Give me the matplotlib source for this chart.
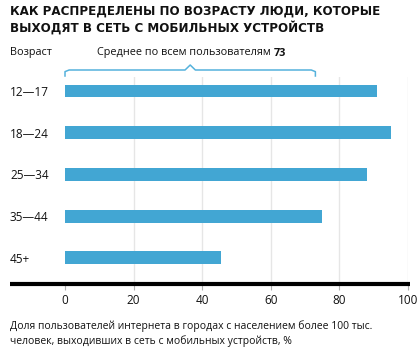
import numpy as np
import matplotlib
matplotlib.use('Agg')
import matplotlib.pyplot as plt
import matplotlib.transforms as mtransforms
from matplotlib.lines import Line2D

plt.rcParams['font.family'] = ['Open Sans', 'DejaVu Sans']

# данные
ages = ['12—17', '18—24', '25—34', '35—44', '45+']
shares = [91, 95, 88, 75, 45.5]
average = 73
xticks = [0, 20, 40, 60, 80, 100]

title = 'КАК РАСПРЕДЕЛЕНЫ ПО ВОЗРАСТУ ЛЮДИ, КОТОРЫЕ\nВЫХОДЯТ В СЕТЬ С МОБИЛЬНЫХ УСТРОЙСТВ'
note = ('Доля пользователей интернета в городах с населением более 100 тыс.\n'
        'человек, выходивших в сеть с мобильных устройств, %')

W, H = 420, 351
fig = plt.figure(figsize=(W / 100, H / 100), dpi=100)

def fx(px):
    return px / W

def fy(py):
    return 1 - py / H

ax = fig.add_axes([fx(65), fy(283), fx(408) - fx(65), fy(77) - fy(283)])

bar_color = '#42a6d3'
ax.barh(np.arange(len(ages)), shares, height=0.31, color=bar_color, zorder=3)
ax.set_xlim(0, 100)
ax.set_ylim(4.6, -0.335)

for x in xticks[1:]:
    ax.axvline(x, color='#e6e6e6', lw=1, zorder=1)

for s in ax.spines.values():
    s.set_visible(False)

ax.set_xticks(xticks)
ax.tick_params(axis='x', length=5, width=0.8, color='#b0b0b0', pad=3,
               labelsize=8.5, labelcolor='#111111')
ax.set_yticks(np.arange(len(ages)))
ax.set_yticklabels(ages)
ax.tick_params(axis='y', length=0, pad=39.6, labelsize=8.5, labelcolor='#111111')
for lbl in ax.get_yticklabels():
    lbl.set_horizontalalignment('left')

# толстая черная линия
fig.add_artist(Line2D([fx(10), fx(410)], [fy(284), fy(284)], color='black',
                      lw=3, solid_capstyle='butt'))

# скобка среднего
trans = mtransforms.blended_transform_factory(ax.transData, ax.transAxes)
y_line = (283 - 70) / 206
y_end = (283 - 76) / 206
y_peak = (283 - 65) / 206
r = 1.2
mid = average / 2
bx = [0, 0, r, mid - 1.5, mid, mid + 1.5, average - r, average, average]
by = [y_end, y_line - 0.008, y_line, y_line, y_peak, y_line, y_line, y_line - 0.008, y_end]
ax.plot(bx, by, color='#55b2dc', lw=1.1, transform=trans, clip_on=False,
        solid_joinstyle='round')

t = fig.text(fx(97), fy(53), 'Среднее по всем пользователям', fontsize=7.8,
             va='center', ha='left', color='#111111')
ax.annotate(str(average), xy=(1, 0), xycoords=t, xytext=(2.5, 0),
            textcoords='offset points', va='bottom', ha='left',
            fontsize=7.8, fontweight='bold', color='#111111')
fig.text(fx(10), fy(53), 'Возраст', fontsize=7.8, va='center', ha='left',
         color='#111111')

fig.text(fx(10), fy(5), title, fontsize=8.6, fontweight='bold', va='top',
         ha='left', color='#111111', linespacing=1.25, family='DejaVu Sans')

fig.text(fx(10), fy(320), note, fontsize=7.5, va='top', ha='left',
         color='#111111', linespacing=1.35)

fig.savefig('out.png', dpi=100, facecolor='white')
